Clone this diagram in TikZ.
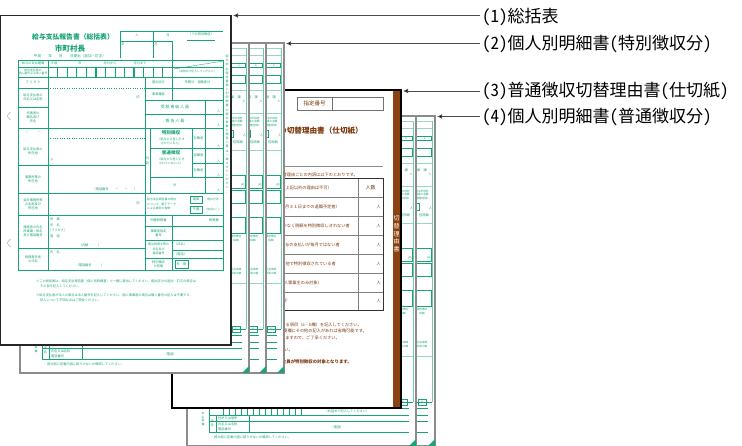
\documentclass[tikz,border=0pt]{standalone}
\usepackage{fontspec}
\setmainfont{Noto Sans CJK JP}
\newfontfamily\lblfont{Noto Sans CJK JP}[RawFeature=+hwid]
\usetikzlibrary{arrows.meta}
\definecolor{fgreen}{RGB}{25,165,115}
\definecolor{kbrown}{RGB}{139,66,16}
\definecolor{ktext}{RGB}{125,58,15}

% one individual statement sheet, #1 = top left corner, #2 = 1 for a front sheet
\newcommand{\meisai}[2]{%
\begin{scope}[shift={#1}]
\fill[white] (0,0) rectangle (229,330);
\draw[fl,opacity=.45] (150,5) -- (226,5) (150,12) -- (226,12) (150,47) -- (226,47) (150,70) -- (226,70) (150,107) -- (226,107) (150,240) -- (226,240);
\draw[fl,opacity=.6] (226,5) -- (226,286);
\draw[flt] (150,20) rectangle (225,24) (150,32) rectangle (225,40);
\node[ft] at (219,22) {1};
\node[ft] at (216,54) {賦　課};
\node[ft] at (224,58) {人};
\node[ft,align=center,font=\fontsize{2.6}{3.2}\selectfont] at (216,79) {給与所得控\\除後の金額\\（調整控除）};
\draw[flt] (180,87) rectangle (213,94);
\node[ft] at (224.5,92.5) {人};
\node[ft] at (218,99) {控除額};
\draw[flt] (150,132) rectangle (225,145);
\draw[fl] (150,147) rectangle (225,160) (150,174) rectangle (225,190);
\node[ft] at (223,142) {円};
\node[ft,align=center,font=\fontsize{2.6}{3.2}\selectfont] at (216,195.5) {源泉徴収\\税額};
\node[ft,align=center,font=\fontsize{2.6}{3.2}\selectfont] at (216,228.5) {社会保険\\料等の額};
\draw[fl] (12,286) -- (226,286);
\draw[fl] (212,283) rectangle (220,289);
\node[ft] at (216,286) {8};
\draw[fl] (22,292) -- (222,292) (22,299) -- (222,299) (22,305) -- (222,305) (22,316) -- (222,316);
\draw[fl] (22,286) -- (22,316) (29,299) -- (29,316) (62,299) -- (62,316);
\foreach \t in {36,42,...,114} \draw[fl] (\t,292) -- (\t,299);
\ifnum#2=1
\node[ft] at (160,295.5) {（右詰めで記入してください）};
\node[ft,align=center,font=\fontsize{2.8}{3.5}\selectfont] at (16,303) {支\\払\\者\\欄};
\node[ft,align=center] at (25.5,307.5) {氏\\名};
\node[ft,anchor=west] at (31,302) {住所又は居所};
\node[ft,anchor=west] at (31,308) {氏名又は名称};
\node[ft,anchor=west] at (31,313) {電話番号};
\node[ft] at (150,311) {（電話）};
\node[ft,anchor=west] at (24,321) {・提出前に記載内容に誤りがないか確認してください。};
\fi
\draw[sheet] (0,0) rectangle (229,330);
\fill[fgreen] (229,330) -- (222,330) -- (229,323) -- cycle;
\end{scope}}

\begin{document}
\begin{tikzpicture}[x=1pt,y=-1pt,
  sheet/.style={draw=black!45,line width=1.1pt},
  topsheet/.style={draw=black!85,line width=1.4pt,fill=white},
  fl/.style={draw=fgreen,line width=0.35pt},
  flt/.style={draw=fgreen,line width=0.9pt},
  ft/.style={text=fgreen,inner sep=0pt,font=\fontsize{3.2}{3.8}\selectfont},
  bt/.style={text=ktext,inner sep=0pt,font=\fontsize{4.2}{5}\selectfont},
  lbl/.style={font=\lblfont\fontsize{17}{17}\selectfont,inner xsep=2pt,inner ysep=0pt,anchor=west},
  pointer/.style={draw=black!70,line width=0.7pt,-{Latex[length=5pt,width=4.5pt,fill=black]}}]
\useasboundingbox (0,0) rectangle (742,446);

% (4) sheets
\meisai{(206,116)}{0}
\meisai{(187,116)}{1}

% (3) divider sheet
\draw[line width=1.3pt,fill=white] (172,90) rectangle (401,408);
\fill[kbrown] (393,91) rectangle (400.3,407.3);
\node[text=white,inner sep=0pt,align=center,font=\fontsize{6}{7.6}\selectfont] (bar) at (396.6,234) {切\\替\\理\\由\\書};
\draw[black!55,line width=0.8pt] (297,97) rectangle (383,110) (332,97) -- (332,110);
\node[bt,font=\fontsize{5.5}{6}\selectfont] (num) at (314.5,103.5) {指定番号};
\node[bt,anchor=east,font=\bfseries\fontsize{7.6}{7.8}\selectfont] (head) at (363,130.5) {の切替理由書（仕切紙）};
\draw[black!45,line width=0.8pt] (250,166) -- (383,166);
\node[bt,anchor=east] at (358,175) {普通徴収切替理由ごとの内訳は以下のとおりです。};
\draw[black!50,line width=1pt] (358,178) -- (358,310);
\foreach \y in {197,216,235,254,273,292}
  \draw[black!50,line width=0.8pt] (200,\y) -- (383,\y);
\draw[black!80,line width=0.9pt] (200,178) rectangle (383,310);
\node[bt,anchor=east] at (332,187.5) {理由（上記以外の理由は不可）};
\node[bt,font=\fontsize{5}{5}\selectfont] at (370.5,187.5) {人数};
\foreach \y/\1/\e in {206.5/退職者（５月３１日までの退職予定者）/340,
  225.5/給与が少なく税額を特別徴収しきれない者/350,
  244.5/給与の支払いが毎月ではない者/340,
  263.5/他で特別徴収されている者/336,
  282.5/事業専従者（個人事業主のみ対象）/322,
  301/総従業員数が２人以下/288} {
  \node[bt,anchor=east,font=\fontsize{4.2}{4.4}\selectfont] at (\e,\y) {\1};
  \node[bt,anchor=east] at (381,\y) {人};
}
\node[bt,anchor=east] at (362,325) {※該当する項目（a・b欄）を記入してください。};
\node[bt,anchor=east] at (367,331) {※摘要欄にその他の記入があれば省略可能です。};
\node[bt,anchor=east] at (340,338) {※特別徴収となりますので、ご了承ください。};
\node[bt,anchor=east] at (293,350) {※添付してください。};
\node[bt,anchor=east,font=\bfseries\fontsize{4.4}{5}\selectfont] at (352,362) {※上記以外は全員が特別徴収の対象となります。};

% (2) sheets
\meisai{(55,43)}{0}
\meisai{(37,43)}{0}
\meisai{(20,43)}{1}

% (1) summary sheet
\draw[topsheet] (0.8,15.5) rectangle (231,345);
\draw[black!35,line width=.5pt] (10.5,112) .. controls (6.5,116) .. (10.5,120);
\draw[black!35,line width=.5pt] (10.5,239) .. controls (6.5,243) .. (10.5,247);
\node[ft,font=\bfseries\fontsize{6.8}{7}\selectfont] (title) at (73,37) {給与支払報告書（総括表）};
\node[ft,font=\bfseries\fontsize{7.6}{8}\selectfont] (city) at (70,48.5) {市町村長};
\node[ft,font=\fontsize{3.6}{4}\selectfont] (date) at (70,56) {平成　　年　　月　　日提出（追加・訂正）};
\draw[fl] (120,31) -- (223,31) (120,31) -- (120,58) (153,31) -- (153,58) (120,41) -- (172,41) (172,41) -- (172,77);
\draw[flt] (187,40) -- (215,40);
\draw[fl] (174,69) -- (223,61);
\node[ft] at (137,35) {人};
\node[ft] at (168,35) {月};
\node[ft] at (201,34.5) {（うち特別徴収）};
\node[ft] at (123,44) {年};
\node[ft] at (156,44) {月};
\node[ft,font=\fontsize{2.8}{3}\selectfont] at (197,71.5) {（右詰めで記入してください）};
% table
\draw[fl] (18,60) rectangle (223,270);
\draw[fl] (48,60) -- (48,270) (145,77) -- (145,270) (172,77) -- (172,100) (172,215) -- (172,270);
\draw[fl] (18,67) -- (223,67) (18,77) -- (223,77) (18,88) -- (48,88) (145,88) -- (223,88) (18,107) -- (48,107);
\draw[fl,dotted] (48,88) -- (145,88) (48,138) -- (145,138);
\foreach \y in {128,165,193,215,248}
  \draw[fl] (18,\y) -- (145,\y);
\foreach \y in {100,114,128,193,215,226,240,258}
  \draw[fl] (145,\y) -- (223,\y);
\draw[fl] (150,148) -- (223,148) (192,163) -- (223,163) (150,177) -- (223,177) (172,250) -- (223,250);
\draw[fl] (150,128) -- (150,193) (192,128) -- (192,177) (205,100) -- (205,193);
\foreach \k in {1,...,12}
  \draw[fl] ({48+9.54*\k},67) -- ({48+9.54*\k},77);
\foreach \k in {1,5,9}
  \draw[flt] ({48+9.54*\k},67) -- ({48+9.54*\k},77);
\node[ft] at (33,63.5) {給与の支払期間};
\node[ft,align=center,font=\fontsize{2.9}{3.4}\selectfont] at (33,72) {給与支払者の\\個人番号又は法人番号};
\node[ft] at (33,82.5) {フ リ ガ ナ};
\node[ft,align=center] at (33,97.5) {給与支払者の\\氏名又は名称};
\node[ft,align=center] at (33,117.5) {代表者の\\職名及び\\氏名};
\node[ft] at (33,133) {－　　　－};
\node[ft,align=center] at (33,151.5) {給与支払者の\\所在地};
\node[ft,align=center] at (33,179) {事業所等の\\所在地};
\node[ft,align=center] at (33,204) {会計事務所等\\の名称及び\\所在地};
\node[ft,align=center] at (33,231.5) {連絡者の氏名\\所属課・係名\\及び電話番号};
\node[ft,align=center] at (33,259) {経理責任者\\の氏名};
\node[ft] at (54,63.5) {平成};
\node[ft] at (80,63.5) {年};
\node[ft] at (110,63.5) {月分から};
\node[ft] at (140,63.5) {月分まで};
\node[ft] at (138,97.5) {印};
\node[ft] at (138,203) {印};
\node[ft] at (52,160) {〒};
\node[ft] at (115,189.5) {（電話番号　　－　　－　　）};
\node[ft,anchor=west] at (50,219) {所　属};
\node[ft,anchor=west] at (50,225) {氏　名};
\node[ft,anchor=west] at (50,230) {(フリガナ)};
\node[ft,anchor=west] at (50,236) {電　話};
\node[ft] at (90,245) {（内線　　　）};
\node[ft,anchor=west] at (50,252) {氏　名};
\node[ft] at (90,265) {（電話番号　　　）};
\node[ft] at (158.5,82.5) {提出区分};
\node[ft] at (197.5,82.5) {年間分・退職者分};
\node[ft] at (158.5,94) {事業種目};
\node[ft,font=\fontsize{4}{4}\selectfont] (total) at (175,107) {受 給 者 総 人 員};
\node[ft,font=\fontsize{4}{4}\selectfont] (report) at (175,121) {報 告 人 員};
\foreach \y in {111,125,146,161,175,190}
  \node[ft,anchor=east] at (220.5,\y) {人};
\node[ft,align=center,font=\fontsize{3.2}{5}\selectfont] at (147.5,160.5) {内\\訳};
\node[ft,font=\bfseries\fontsize{4.6}{5}\selectfont] (toku) at (171,133) {特別徴収};
\node[ft,align=center,font=\fontsize{3}{4.6}\selectfont] at (171,141.5) {（給与から差し引き\\されている人）};
\node[ft] at (198.5,138) {在職者};
\node[ft,font=\bfseries\fontsize{4.6}{5}\selectfont] (futsu) at (171,153) {普通徴収};
\node[ft,align=center,font=\fontsize{3}{4.6}\selectfont] at (171,161.5) {（給与から差し引き\\されていない人）};
\node[ft] at (198.5,155.5) {退職者};
\node[ft] at (198.5,170) {在職者};
\node[ft] at (175,185) {計};
\node[ft,align=left,anchor=west,font=\fontsize{2.9}{4.3}\selectfont] at (147,204) {給与支払報告書の提出\\について、電子データ\\による提出の有無};
\draw[fl] (190,196) rectangle (202,203) (190,206) rectangle (202,213);
\node[ft] at (196,199.5) {電算};
\node[ft] at (196,209.5) {不要};
\node[ft,font=\fontsize{2.8}{3}\selectfont] at (213,199.5) {提出方法};
\node[ft,font=\fontsize{2.8}{3}\selectfont] at (213,209.5) {(該当に○)};
\node[ft] at (158.5,220.5) {所轄税務署};
\node[ft] at (214,220.5) {税務署};
\node[ft,align=center] at (158.5,233) {事業者指定\\番号};
\node[ft,align=center,font=\fontsize{3}{4.4}\selectfont] at (158.5,249) {関与税理士等の\\氏名及び\\電話番号};
\node[ft,anchor=west] at (174,244.5) {（氏名）};
\node[ft,anchor=west] at (174,254) {（電話）};
\node[ft,align=center] at (158.5,264) {特別徴収\\の有無};
\draw[fl] (175,260) rectangle (188,268);
\node[ft] at (181.5,264) {有・無};
\node[ft,align=center,anchor=north,font=\fontsize{3}{4.1}\selectfont] (side) at (227,55) {給\\与\\支\\払\\報\\告\\書\\個\\人\\別\\明\\細\\書\\の\\提\\出\\枚\\数\\と\\報\\告\\人\\員\\は\\一\\致\\さ\\せ\\て\\く\\だ\\さ\\い\\。};
\node[ft,anchor=west] at (36,281) {※この総括表は、給与支払報告書（個人別明細書）と一緒に提出してください。提出区分の追加・訂正の場合は};
\node[ft,anchor=west] at (40,286) {その旨を記入してください。};
\node[ft,anchor=west] at (36,295) {※給与支払者が法人の場合は法人番号を記入してください。個人事業者の場合は個人番号の記入は不要です。};
\node[ft,anchor=west] at (40,300) {記入について不明な点はご照会ください。};

% labels and pointers
\node[lbl] (l1) at (480,17.5) {(1)総括表};
\node[lbl] (l2) at (480,44) {(2)個人別明細書(特別徴収分)};
\node[lbl] (l3) at (480,91) {(3)普通徴収切替理由書(仕切紙)};
\node[lbl] (l4) at (480,117) {(4)個人別明細書(普通徴収分)};
\coordinate (p1) at (233,15.5);
\coordinate (p2) at (286,43.5);
\coordinate (p3) at (403,91);
\coordinate (p4) at (437,116.5);
\draw[pointer] (l1.west |- p1) -- (p1);
\draw[pointer] (l2.west |- p2) -- (p2);
\draw[pointer] (l3.west |- p3) -- (p3);
\draw[pointer] (l4.west |- p4) -- (p4);
\end{tikzpicture}
\end{document}
